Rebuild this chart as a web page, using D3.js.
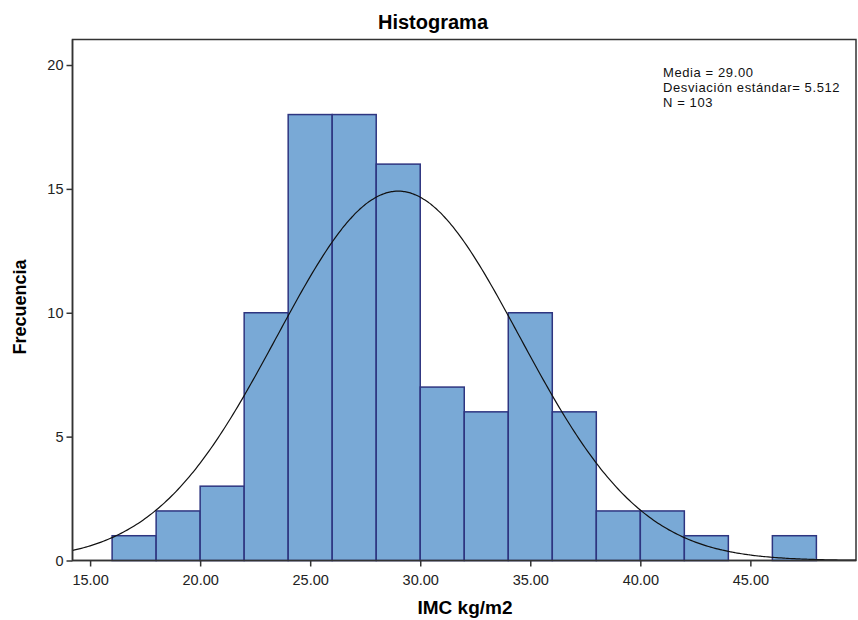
<!DOCTYPE html>
<html>
<head>
<meta charset="utf-8">
<script src="https://cdn.jsdelivr.net/npm/d3@7"></script>
<style>
  body { margin: 0; background: #fff; }
  text { font-family: "Liberation Sans", Arial, sans-serif; }
</style>
</head>
<body>
<svg id="canvas" width="858" height="620"></svg>
<script>
// data
var binStarts = [16, 18, 20, 22, 24, 26, 28, 30, 32, 34, 36, 38, 40, 42, 44, 46];
var binCounts = [1, 2, 3, 10, 18, 18, 16, 7, 6, 10, 6, 2, 2, 1, 0, 1];
var binWidth = 2;
var xTicks = [15, 20, 25, 30, 35, 40, 45];
var yTicks = [0, 5, 10, 15, 20];
var statMean = 29.00, statSd = 5.512, statN = 103;
var statLines = ['Media = 29.00', 'Desviación estándar= 5.512', 'N = 103'];

var svg = d3.select('#canvas');
var plot = { left: 72.5, top: 39.5, right: 856, bottom: 560.5 };

var xScale = d3.scaleLinear().domain([14.2, 49.8]).range([plot.left, plot.right]);
var yScale = d3.scaleLinear().domain([0, 21.03]).range([plot.bottom, plot.top]);

// frame
svg.append('rect')
  .attr('x', plot.left).attr('y', plot.top)
  .attr('width', plot.right - plot.left).attr('height', plot.bottom - plot.top)
  .attr('fill', '#fff').attr('stroke', '#333').attr('stroke-width', 1.5);

// bars
svg.append('g').selectAll('rect').data(binStarts).enter().append('rect')
  .attr('x', function(d){ return xScale(d); })
  .attr('y', function(d, i){ return yScale(binCounts[i]); })
  .attr('width', function(d){ return xScale(d + binWidth) - xScale(d); })
  .attr('height', function(d, i){ return yScale(0) - yScale(binCounts[i]); })
  .attr('fill', '#79a9d6')
  .attr('stroke', '#2e3580').attr('stroke-width', 1.5)
  .style('display', function(d, i){ return binCounts[i] > 0 ? null : 'none'; });

// normal curve
var curveX = d3.range(xScale.domain()[0], xScale.domain()[1] + 0.01, 0.1);
var pdf = function(x){
  return statN * binWidth / (statSd * Math.sqrt(2 * Math.PI)) * Math.exp(-0.5 * Math.pow((x - statMean) / statSd, 2));
};
var lineGen = d3.line().x(function(d){ return xScale(d); }).y(function(d){ return yScale(pdf(d)); }).curve(d3.curveBasis);
svg.append('path').attr('d', lineGen(curveX))
  .attr('fill', 'none').attr('stroke', '#111').attr('stroke-width', 1.2);

// axes
var xAxis = svg.append('g').attr('transform', 'translate(0,' + plot.bottom + ')')
  .call(d3.axisBottom(xScale).tickValues(xTicks).tickFormat(d3.format('.2f')).tickSize(6).tickSizeOuter(0));
var yAxis = svg.append('g').attr('transform', 'translate(' + plot.left + ',0)')
  .call(d3.axisLeft(yScale).tickValues(yTicks).tickSize(6).tickSizeOuter(0));
[xAxis, yAxis].forEach(function(a){
  a.select('.domain').remove();
  a.selectAll('line').attr('stroke', '#333').attr('stroke-width', 1.5);
  a.selectAll('text').attr('fill', '#222').style('font-size', '14.5px').style('font-family', '"Liberation Sans", Arial, sans-serif');
});
xAxis.selectAll('text').attr('dy', '1.05em');
// frame edges on top of bars
svg.append('line').attr('x1', plot.left).attr('x2', plot.right).attr('y1', plot.bottom).attr('y2', plot.bottom)
  .attr('stroke', '#333').attr('stroke-width', 1.5);
svg.append('line').attr('x1', plot.left).attr('x2', plot.left).attr('y1', plot.top).attr('y2', plot.bottom)
  .attr('stroke', '#333').attr('stroke-width', 1.5);

// stats text
svg.append('g').selectAll('text').data(statLines).enter().append('text')
  .attr('x', 663).attr('y', function(d, i){ return 77 + i * 15; })
  .style('font-size', '13px').style('letter-spacing', '0.6px').attr('fill', '#111')
  .text(function(d){ return d; });

// titles
svg.append('text').attr('x', 433).attr('y', 29).attr('text-anchor', 'middle')
  .style('font-size', '20px').style('font-weight', 'bold').text('Histograma');
svg.append('text').attr('x', 465).attr('y', 614).attr('text-anchor', 'middle')
  .style('font-size', '19px').style('font-weight', 'bold').text('IMC kg/m2');
svg.append('text').attr('transform', 'translate(26,307) rotate(-90)').attr('text-anchor', 'middle')
  .style('font-size', '18px').style('font-weight', 'bold').text('Frecuencia');
</script>
</body>
</html>
